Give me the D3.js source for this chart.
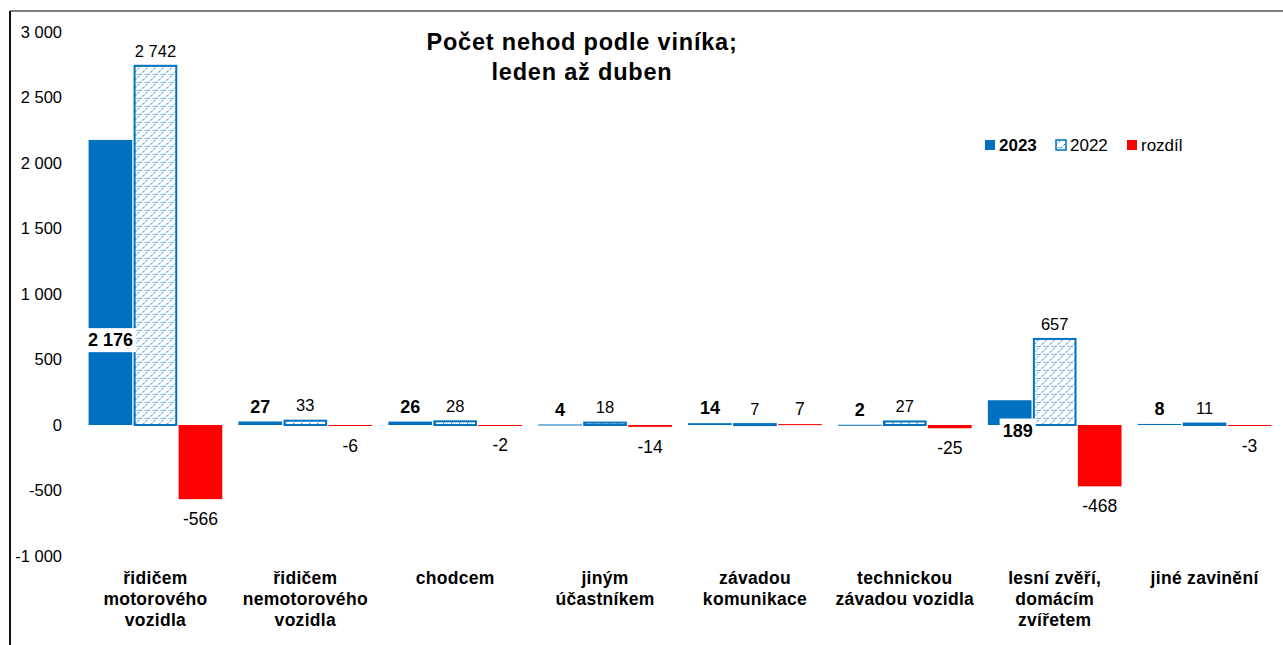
<!DOCTYPE html>
<html lang="cs">
<head>
  <meta charset="UTF-8">
  <title>Počet nehod podle viníka</title>
  <style>
    body { margin: 0; background: #fff; }
    text { font-family: "Liberation Sans", Arial, sans-serif; }
  </style>
</head>
<body>
  <svg id="svg" width="1283" height="645"></svg>

  <script src="https://d3js.org/d3.v7.min.js"></script>
  <script>
    // data
    const categories = [
      ['řidičem', 'motorového', 'vozidla'],
      ['řidičem', 'nemotorového', 'vozidla'],
      ['chodcem'],
      ['jiným', 'účastníkem'],
      ['závadou', 'komunikace'],
      ['technickou', 'závadou vozidla'],
      ['lesní zvěří,', 'domácím', 'zvířetem'],
      ['jiné zavinění']
    ]
    const values2023 = [2176, 27, 26, 4, 14, 2, 189, 8]
    const values2022 = [2742, 33, 28, 18, 7, 27, 657, 11]
    const diff = [-566, -6, -2, -14, 7, -25, -468, -3]
    const seriesNames = ['2023', '2022', 'rozdíl']
    const yTicks = [-1000, -500, 0, 500, 1000, 1500, 2000, 2500, 3000]

    const blue = '#0070c0'
    const red = '#ff0000'

    const svg = d3.select('#svg')

    // number format with space as thousands separator
    const cz = d3.formatLocale({ decimal: ',', thousands: '\u00a0', grouping: [3], currency: ['', ''], minus: '-' })
    const fmt = cz.format(',d')

    // hatch pattern for 2022
    const defs = svg.append('defs')
    const pat = defs.append('pattern')
      .attr('id', 'hatch')
      .attr('patternUnits', 'userSpaceOnUse')
      .attr('width', 8).attr('height', 8)
    pat.append('rect').attr('width', 8).attr('height', 8).attr('fill', '#fff')
    pat.append('path')
      .attr('d', 'M0,8 L8,0 M-2,2 L2,-2 M6,10 L10,6')
      .attr('stroke', blue).attr('stroke-width', 1).attr('stroke-dasharray', '2,1.5')
      .attr('fill', 'none')
    pat.append('path')
      .attr('d', 'M1,3 Q3,1 5,3')
      .attr('stroke', '#5a9be0').attr('stroke-width', 0.8).attr('fill', 'none')

    // frame
    svg.append('line').attr('x1', 10).attr('x2', 1283).attr('y1', 11).attr('y2', 11)
      .attr('stroke', '#555').attr('stroke-width', 1.5)
    svg.append('line').attr('x1', 10).attr('x2', 10).attr('y1', 11).attr('y2', 645)
      .attr('stroke', '#111').attr('stroke-width', 2)

    // scales
    const x0 = d3.scaleBand()
      .domain(d3.range(categories.length))
      .range([80.5, 1279.5])
      .paddingInner(0.09)
      .paddingOuter(0.045)
    const x1 = d3.scaleBand()
      .domain(seriesNames)
      .range([0, x0.bandwidth()])
      .padding(0.03)
    const y = d3.scaleLinear().domain([-1000, 3000]).range([556, 32])

    // y axis labels (no line, no ticks)
    svg.append('g')
      .selectAll('text')
      .data(yTicks)
      .join('text')
      .attr('x', 62)
      .attr('y', d => y(d))
      .attr('dy', '0.35em')
      .attr('text-anchor', 'end')
      .attr('font-size', 16.5)
      .attr('fill', '#000')
      .text(d => fmt(d))

    // rows for each group
    const rows = categories.map((c, i) => ({
      i,
      vals: [
        { s: '2023', v: values2023[i] },
        { s: '2022', v: values2022[i] },
        { s: 'rozdíl', v: diff[i] }
      ]
    }))

    const groups = svg.append('g')
      .selectAll('g')
      .data(rows)
      .join('g')
      .attr('transform', d => `translate(${x0(d.i)},0)`)

    groups.selectAll('rect')
      .data(d => d.vals.map(v => ({ ...v, i: d.i })))
      .join('rect')
      .attr('x', d => x1(d.s) + (d.s === '2022' ? 1 : 0))
      .attr('y', d => Math.min(y(d.v), y(0)))
      .attr('width', d => x1.bandwidth() - (d.s === '2022' ? 2 : 0))
      .attr('height', d => Math.max(Math.abs(y(d.v) - y(0)), 1))
      .attr('fill', d => d.s === '2023' ? blue : d.s === '2022' ? 'url(#hatch)' : red)
      .attr('stroke', d => d.s === '2022' ? blue : 'none')
      .attr('stroke-width', 2)

    // value labels
    const labelSize = { '2023': 18, '2022': 16.5, 'rozdíl': 17.5 }
    groups.each(function (d) {
      const g = d3.select(this)
      d.vals.forEach(v => {
        let cx = x1(v.s) + x1.bandwidth() / 2
        let ty = v.v >= 0 ? y(v.v) - 15 : y(v.v) + 20
        let box = false
        // two 2023 labels sit on the bar with a white box, as in the original
        if (v.s === '2023' && v.v > 1000) { ty = y(650); box = true }
        if (v.s === '2023' && v.v > 100 && v.v <= 1000) { ty = y(-40); cx += 8; box = true }
        const t = g.append('text')
          .attr('x', cx)
          .attr('y', ty)
          .attr('dy', '0.35em')
          .attr('text-anchor', 'middle')
          .attr('font-size', labelSize[v.s])
          .attr('font-weight', v.s === '2023' ? 'bold' : 'normal')
          .text(fmt(v.v))
        if (box) {
          const bb = t.node().getBBox()
          g.insert('rect', () => t.node())
            .attr('x', bb.x - 3).attr('y', bb.y - 2)
            .attr('width', bb.width + 6).attr('height', bb.height + 4)
            .attr('fill', '#fff')
        }
      })
    })

    // category labels
    svg.append('g')
      .selectAll('text')
      .data(categories)
      .join('text')
      .attr('x', (d, i) => x0(i) + x0.bandwidth() / 2)
      .attr('y', 578)
      .attr('text-anchor', 'middle')
      .attr('font-size', 17.5)
      .attr('font-weight', 'bold')
      .attr('letter-spacing', 0.3)
      .selectAll('tspan')
      .data(d => d)
      .join('tspan')
      .attr('x', function () { return d3.select(this.parentNode).attr('x') })
      .attr('dy', (d, j) => j === 0 ? '0.35em' : '1.2em')
      .text(d => d)

    // title
    svg.append('text')
      .attr('x', 582).attr('y', 42)
      .attr('text-anchor', 'middle')
      .attr('font-size', 23.5).attr('font-weight', 'bold')
      .attr('letter-spacing', 0.8)
      .selectAll('tspan')
      .data(['Počet nehod podle viníka;', 'leden až duben'])
      .join('tspan')
      .attr('x', 582)
      .attr('dy', (d, j) => j === 0 ? '0.35em' : '1.27em')
      .text(d => d)

    // legend
    const legend = svg.append('g').attr('transform', 'translate(985,145)')
    const legX = [0, 71, 142]
    seriesNames.forEach((s, i) => {
      const lg = legend.append('g').attr('transform', `translate(${legX[i]},0)`)
      lg.append('rect')
        .attr('x', 0).attr('y', -5).attr('width', 10).attr('height', 10)
        .attr('fill', s === '2023' ? blue : s === '2022' ? 'url(#hatch)' : red)
        .attr('stroke', s === '2022' ? blue : 'none')
        .attr('stroke-width', 1.5)
      lg.append('text')
        .attr('x', 14).attr('y', 0).attr('dy', '0.35em')
        .attr('font-size', 17)
        .attr('font-weight', s === '2023' ? 'bold' : 'normal')
        .text(s)
    })
  </script>
</body>
</html>
